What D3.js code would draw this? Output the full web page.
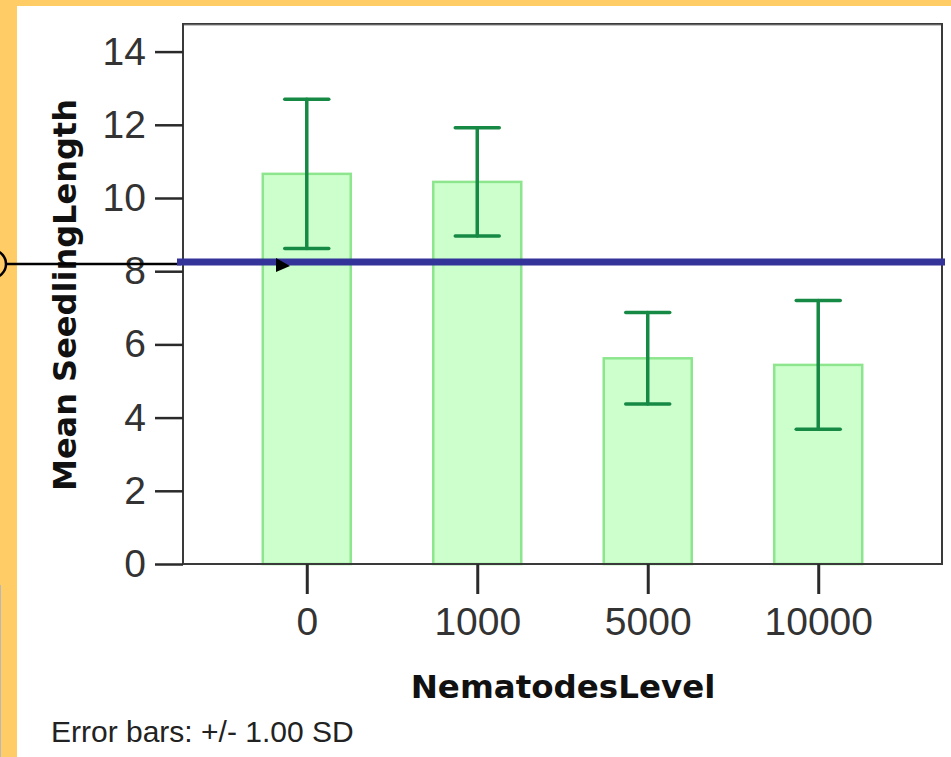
<!DOCTYPE html>
<html>
<head>
<meta charset="utf-8">
<script src="https://cdn.jsdelivr.net/npm/d3@7"></script>
<style>
  body { margin: 0; background: #ffffff; }
  svg { display: block; }
</style>
</head>
<body>
<div id="chart"></div>
<script>
// data
var levels = ["0", "1000", "5000", "10000"];
var means = [10.66, 10.44, 5.62, 5.44];
var sds = [2.04, 1.48, 1.25, 1.76];
var yTicks = [0, 2, 4, 6, 8, 10, 12, 14];
var refValue = 8.25;

var W = 951, H = 757;
var plot = { left: 183, right: 942, top: 24, bottom: 564 };

var svg = d3.select("#chart")
	.append("svg")
	.attr("width", W)
	.attr("height", H);

// orange page border
svg.append("rect").attr("x", 0).attr("y", 0).attr("width", W).attr("height", 6).attr("fill", "#ffcc66");
svg.append("rect").attr("x", 0).attr("y", 0).attr("width", 17).attr("height", H).attr("fill", "#ffcc66");
svg.append("line").attr("x1", 0.5).attr("x2", 0.5).attr("y1", 585).attr("y2", H)
	.attr("stroke", "#b8b8b8").attr("stroke-width", 1);

var x = d3.scalePoint()
	.domain(levels)
	.range([plot.left, plot.right])
	.padding(0.726);

var y = d3.scaleLinear()
	.domain([0, 14.75])
	.range([plot.bottom, plot.bottom - 14.75 * 36.6]);

var barW = 88;

// bars
svg.append("g")
	.selectAll("rect")
	.data(levels)
	.enter()
	.append("rect")
	.attr("x", function(d) { return x(d) - barW / 2; })
	.attr("y", function(d, i) { return y(means[i]); })
	.attr("width", barW)
	.attr("height", function(d, i) { return y(0) - y(means[i]); })
	.attr("fill", "#ccffcc")
	.attr("stroke", "#8de68d")
	.attr("stroke-width", 2.5);

// error bars
var err = svg.append("g")
	.attr("stroke", "#168a45")
	.attr("stroke-width", 3.5)
	.attr("stroke-linecap", "round");
levels.forEach(function(d, i) {
	var cx = x(d), hi = y(means[i] + sds[i]), lo = y(means[i] - sds[i]);
	err.append("line").attr("x1", cx).attr("x2", cx).attr("y1", hi).attr("y2", lo);
	err.append("line").attr("x1", cx - 22).attr("x2", cx + 22).attr("y1", hi).attr("y2", hi);
	err.append("line").attr("x1", cx - 22).attr("x2", cx + 22).attr("y1", lo).attr("y2", lo);
});

// frame
svg.append("path")
	.attr("d", "M" + plot.left + "," + plot.bottom + "V" + plot.top + "H" + plot.right + "V" + plot.bottom + "Z")
	.attr("fill", "none")
	.attr("stroke", "#3a3a3a")
	.attr("stroke-width", 2);
svg.append("path")
	.attr("d", "M" + (plot.left + 1) + "," + (plot.top + 1) + "H" + (plot.right - 1))
	.attr("stroke", "#888").attr("stroke-width", 1).attr("fill", "none");

// y axis
var yAxis = svg.append("g")
	.attr("transform", "translate(" + plot.left + ",0)")
	.call(d3.axisLeft(y).tickValues(yTicks).tickSize(28).tickPadding(9));
yAxis.select(".domain").remove();
yAxis.selectAll(".tick line").attr("stroke", "#2a2a2a").attr("stroke-width", 2.5);
yAxis.selectAll(".tick text")
	.attr("font-family", "'Liberation Sans', Arial, sans-serif")
	.attr("font-size", 39)
	.attr("fill", "#333");

// x axis
var xAxis = svg.append("g")
	.attr("transform", "translate(0," + plot.bottom + ")")
	.call(d3.axisBottom(x).tickSize(30).tickPadding(13));
xAxis.select(".domain").remove();
xAxis.selectAll(".tick line").attr("stroke", "#2a2a2a").attr("stroke-width", 3);
xAxis.selectAll(".tick text")
	.attr("font-family", "'Liberation Sans', Arial, sans-serif")
	.attr("font-size", 39)
	.attr("fill", "#333");

// axis titles
svg.append("text")
	.attr("x", 563)
	.attr("y", 698)
	.attr("text-anchor", "middle")
	.attr("font-family", "'DejaVu Sans', Verdana, sans-serif")
	.attr("font-weight", "bold")
	.attr("font-size", 32.5)
	.attr("fill", "#111")
	.text("NematodesLevel");

svg.append("text")
	.attr("transform", "translate(76,295) rotate(-90)")
	.attr("text-anchor", "middle")
	.attr("font-family", "'DejaVu Sans', Verdana, sans-serif")
	.attr("font-weight", "bold")
	.attr("font-size", 32)
	.attr("fill", "#111")
	.text("Mean SeedlingLength");

svg.append("text")
	.attr("x", 51)
	.attr("y", 742)
	.attr("font-family", "'Liberation Sans', Arial, sans-serif")
	.attr("font-size", 30)
	.attr("fill", "#222")
	.text("Error bars: +/- 1.00 SD");

// reference line with pointer
svg.append("line")
	.attr("x1", 6).attr("x2", 181)
	.attr("y1", 264).attr("y2", 264)
	.attr("stroke", "#000").attr("stroke-width", 2.5);
svg.append("circle")
	.attr("cx", -8).attr("cy", 264).attr("r", 14)
	.attr("fill", "none").attr("stroke", "#000").attr("stroke-width", 2.5);
svg.append("line")
	.attr("x1", 177).attr("x2", 945)
	.attr("y1", y(refValue)).attr("y2", y(refValue))
	.attr("stroke", "#333399").attr("stroke-width", 7);
svg.append("path")
	.attr("d", "M276,258 L290,266 L276,272 Z")
	.attr("fill", "#000");
</script>
</body>
</html>
